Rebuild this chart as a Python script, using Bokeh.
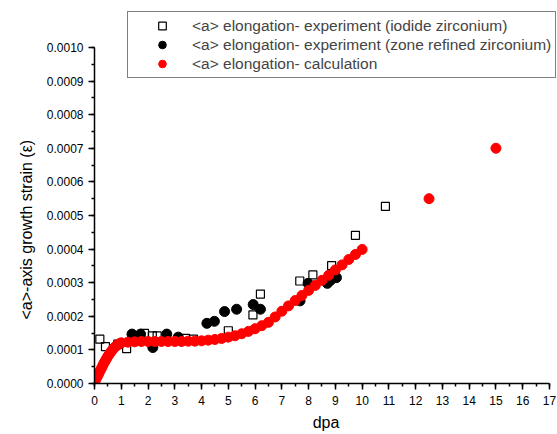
from bokeh.plotting import figure
from bokeh.models import Range1d, SingleIntervalTicker, NumeralTickFormatter, Legend, LegendItem, Title
from bokeh.embed import file_html
from bokeh.resources import INLINE

# calculation (red)
calc_dpa = [0.00, 0.05, 0.10, 0.15, 0.20, 0.25, 0.30, 0.35, 0.40, 0.45, 0.50, 0.55, 0.60, 0.65,
            0.70, 0.75, 0.80, 0.85, 0.90, 0.95, 1.00, 1.25, 1.50, 1.75, 2.00, 2.25, 2.50, 2.75,
            3.00, 3.25, 3.50, 3.75, 4.00, 4.25, 4.50, 4.75, 5.00, 5.25, 5.50, 5.75, 6.00, 6.25,
            6.50, 6.75, 7.00, 7.25, 7.50, 7.75, 8.00, 8.25, 8.50, 8.75, 9.00, 9.25, 9.50, 9.75,
            10.00, 12.5, 15.0]
calc_strain = [0.000005, 0.000012, 0.000020, 0.000028, 0.000036, 0.000044, 0.000052, 0.000060,
               0.000067, 0.000074, 0.000081, 0.000087, 0.000093, 0.000098, 0.000103, 0.000107,
               0.000111, 0.000114, 0.000117, 0.000119, 0.000121, 0.000123, 0.000124, 0.000125,
               0.000125, 0.000125, 0.000125, 0.000125, 0.000125, 0.000125, 0.000126, 0.000126,
               0.000127, 0.000129, 0.000131, 0.000134, 0.000138, 0.000142, 0.000148, 0.000155,
               0.000163, 0.000172, 0.000182, 0.000198, 0.000215, 0.000231, 0.000247, 0.000262,
               0.000277, 0.000292, 0.000307, 0.000322, 0.000338, 0.000353, 0.000369, 0.000384,
               0.000399, 0.00055, 0.00070]

# experiment, iodide zirconium (open squares)
iod_dpa = [0.20, 0.41, 0.87, 1.20, 1.87, 2.16, 2.34, 3.40, 3.70, 5.00, 5.92, 6.20, 7.67, 8.16,
           8.86, 9.75, 10.87]
iod_strain = [0.000132, 0.000110, 0.000117, 0.000104, 0.000149, 0.000142, 0.000142, 0.000134,
              0.000132, 0.000157, 0.000204, 0.000266, 0.000305, 0.000323, 0.000351, 0.000441,
              0.000527]

# experiment, zone refined zirconium (black dots)
zone_dpa = [1.40, 1.72, 2.18, 2.70, 3.13, 4.20, 4.48, 4.86, 5.31, 5.93, 6.20, 7.68, 7.98, 8.70,
            8.82, 9.04]
zone_strain = [0.000147, 0.000147, 0.000107, 0.000147, 0.000138, 0.000179, 0.000185, 0.000214,
               0.000221, 0.000235, 0.000221, 0.000246, 0.000298, 0.000298, 0.000307, 0.000315]

x_ticks_interval = 1
y_ticks_interval = 0.0001
x_axis_max = 17
y_axis_max = 0.0010
x_view_max = 17.3     # small room right of the last tick
y_view_max = 0.00111  # extra room above the axis for the legend box

FONT = "Liberation Sans"

p = figure(width=557, height=433, output_backend="svg", toolbar_location=None,
           x_range=Range1d(0, x_view_max), y_range=Range1d(0, y_view_max),
           min_border_left=94, min_border_right=0, min_border_top=10, min_border_bottom=50)
p.outline_line_color = None
p.xgrid.visible = False
p.ygrid.visible = False
p.background_fill_color = "white"
p.border_fill_color = "white"

r_iod = p.scatter(iod_dpa, iod_strain, marker="square", size=8, fill_color=None,
                  line_color="black", line_width=1.2)
r_zone = p.scatter(zone_dpa, zone_strain, marker="circle", size=10, fill_color="black",
                   line_color="black")
r_calc = p.scatter(calc_dpa, calc_strain, marker="circle", size=10, fill_color="red",
                   line_color="red")

for ax in (p.xaxis[0], p.yaxis[0]):
    ax.axis_line_width = 1.5
    ax.axis_line_color = "black"
    ax.major_tick_line_width = 1.5
    ax.minor_tick_line_width = 1.5
    ax.major_tick_out = 6
    ax.major_tick_in = 0
    ax.minor_tick_out = 3
    ax.minor_tick_in = 0
    ax.major_label_text_font = FONT
    ax.major_label_text_font_size = "12px"
    ax.major_label_text_color = "black"
    ax.axis_label_text_font = FONT
    ax.axis_label_text_font_size = "16px"
    ax.axis_label_text_font_style = "normal"
    ax.axis_label_text_color = "black"

p.xaxis[0].ticker = SingleIntervalTicker(interval=x_ticks_interval, num_minor_ticks=2)
p.yaxis[0].ticker = SingleIntervalTicker(interval=y_ticks_interval, num_minor_ticks=2)
p.xaxis[0].bounds = (0, x_axis_max)
p.yaxis[0].bounds = (0, y_axis_max)
p.yaxis[0].formatter = NumeralTickFormatter(format="0.0000")
p.xaxis[0].axis_label = "dpa"
p.xaxis[0].axis_label_standoff = 6
p.xaxis[0].major_label_standoff = 6
p.yaxis[0].major_label_standoff = 5

ytitle = Title(text="<a>-axis growth strain (ε)", align="left", offset=64,
               vertical_align="bottom", standoff=18,
               text_font=FONT, text_font_size="16px", text_font_style="normal",
               text_color="black")
p.add_layout(ytitle, "left")

legend = Legend(items=[
    LegendItem(label="<a> elongation- experiment (iodide zirconium)", renderers=[r_iod]),
    LegendItem(label="<a> elongation- experiment (zone refined zirconium)", renderers=[r_zone]),
    LegendItem(label="<a> elongation- calculation", renderers=[r_calc]),
], location=(33, 305))
legend.label_text_font = FONT
legend.label_text_font_size = "15.5px"
legend.label_height = 19
legend.glyph_height = 19
legend.glyph_width = 60
legend.label_standoff = 0
legend.padding = 4
legend.spacing = 0
legend.border_line_color = "black"
legend.border_line_width = 1
legend.background_fill_alpha = 1
p.add_layout(legend)

open("out.html", "w").write(file_html(p, INLINE))
